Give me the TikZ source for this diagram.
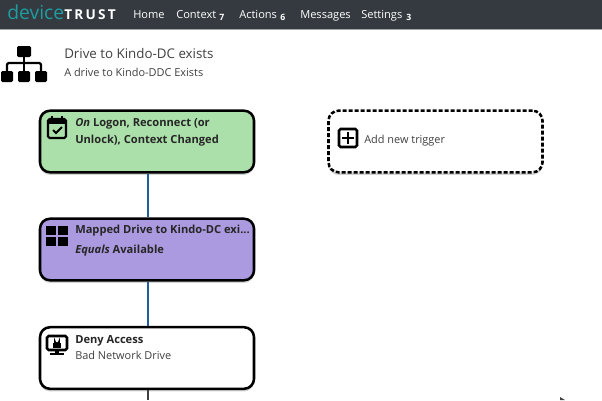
\documentclass[tikz,border=0pt]{standalone}
\usepackage{fontspec}
\setmainfont{Open Sans}
\usetikzlibrary{shadows}
\definecolor{barcol}{HTML}{343A40}
\definecolor{logocol}{HTML}{1F9CA0}
\definecolor{greencol}{HTML}{ACE0AA}
\definecolor{purplecol}{HTML}{AB9ADF}
\definecolor{linkcol}{HTML}{1F5F9F}
\definecolor{textcol}{HTML}{404040}
\tikzset{
  box/.style={draw=black,line width=1.9pt,rounded corners=7.5pt,minimum width=160.5pt,minimum height=46.2pt,drop shadow={shadow xshift=0pt,shadow yshift=-2pt,opacity=.35}},
  nav/.style={anchor=base west,inner sep=0pt,text=white,font=\fontsize{8.3}{10}\selectfont},
  navnum/.style={anchor=base west,inner sep=0pt,text=white,font=\fontsize{6.5}{8}\selectfont\bfseries},
  txt/.style={anchor=base west,inner sep=0pt,text=textcol,font=\fontsize{8.2}{10}\selectfont},
  boldtxt/.style={txt,text=black!85,font=\fontsize{8.35}{10}\selectfont\bfseries},
  head/.style={anchor=base west,inner sep=0pt,text=textcol,font=\fontsize{10}{12}\selectfont},
  link/.style={draw=linkcol,line width=2.2pt},
  icon/.style={line width=1.6pt,rounded corners=1.2pt}
}
\begin{document}
\begin{tikzpicture}[x=.75pt,y=-.75pt]
   \useasboundingbox (0,0) rectangle (602,400);
   \fill[barcol] (0,0) rectangle (602,29);
   \fill[gray!70] (0,29) rectangle (602,30);
   \node[nav,text=logocol,font=\fontsize{14.5}{16}\selectfont] at (7,19) (device) {device};
   \node[nav,font=\fontsize{10.2}{12}\selectfont\bfseries] at (64,19) (trust) {T\,R\,U\,S\,T};
   \node[nav] at (133,18) (home) {Home};
   \node[nav] at (176,18) (context) {Context};
   \node[navnum] at (219,20) (contextnum) {7};
   \node[nav] at (239,18) (actions) {Actions};
   \node[navnum] at (280,20) (actionsnum) {6};
   \node[nav] at (300,18) (messages) {Messages};
   \node[nav] at (361,18) (settings) {Settings};
   \node[navnum] at (406,20) (settingsnum) {3};

   \node[head] at (64,58) (title) {Drive to Kindo-DC exists};
   \node[txt] at (64,76) (subtitle) {A drive to Kindo-DDC Exists};

   \coordinate (tail) at (148,400);
    \node[box,fill=greencol] at (147,141.5) (trigger) {};
    \node[box,fill=purplecol] at (147,249.5) (check) {};
    \node[box,fill=white] at (147,358) (deny) {};
    \node[box,fill=white,dashed,dash pattern=on 3pt off 1.5pt] at (435.5,141.5) (addbox) {};
    \draw[link] (trigger.south -| tail) -- (check.north -| tail);
    \draw[link] (check.south -| tail) -- (deny.north -| tail);
    \draw[line width=2.2pt,textcol] (deny.south -| tail) -- (tail);

   \node[boldtxt] at (75,126) (triggerone) {\textit{On} Logon, Reconnect (or};
   \node[boldtxt] at (75,143) (triggertwo) {Unlock), Context Changed};
   \node[boldtxt] at (75,233) (checkone) {Mapped Drive to Kindo-DC exi...};
   \node[boldtxt] at (75,253) (checktwo) {\textit{Equals} Available};
   \node[boldtxt] at (75,343) (denyone) {Deny Access};
   \node[txt] at (75,359) (denytwo) {Bad Network Drive};
   \node[txt] at (364,143) (addtext) {Add new trigger};

   % tree icon
   \fill[rounded corners=1pt] (17,46) rectangle (31,57);
   \foreach \x in {1,18,35}
     \fill[rounded corners=1pt] (\x,71) rectangle (\x+12,82);
   \draw[line width=1.7pt,rounded corners=1.5pt] (7,71) -- (7,63) -- (41,63) -- (41,71);
   \draw[line width=1.7pt] (24,57) -- (24,71);

   % calendar
   \draw[icon] (48,119) rectangle (66,138);
   \draw[line width=2.5pt] (48,122) -- (66,122);
   \draw[line width=1.5pt] (52,116) -- (52,120) (62,116) -- (62,120);
   \draw[line width=1.5pt] (53,130) -- (56,133) -- (62,127);

   % grid
   \foreach \x in {46,58}
     \foreach \y in {226,237}
       \fill (\x,\y) rectangle (\x+10,\y+9);

   % monitor with lock
   \draw[icon,line width=1.9pt] (47,336) rectangle (67,350);
   \fill (55,350) rectangle (59,353);
   \fill (50,353) rectangle (64,355);
   \fill (53,342.5) rectangle (61,348);
   \draw[line width=1.1pt] (54.8,343) -- (54.8,341) arc[start angle=180,end angle=0,radius=2.2] -- (59.2,343);

   % plus
   \draw[icon,line width=1.9pt] (339,129) rectangle (357,147);
   \draw[line width=1.9pt] (342,138) -- (354,138) (348,132) -- (348,144);

   \fill[textcol] (560,397) -- (565,400) -- (560,400) -- cycle;
    \end{tikzpicture}
\end{document}
